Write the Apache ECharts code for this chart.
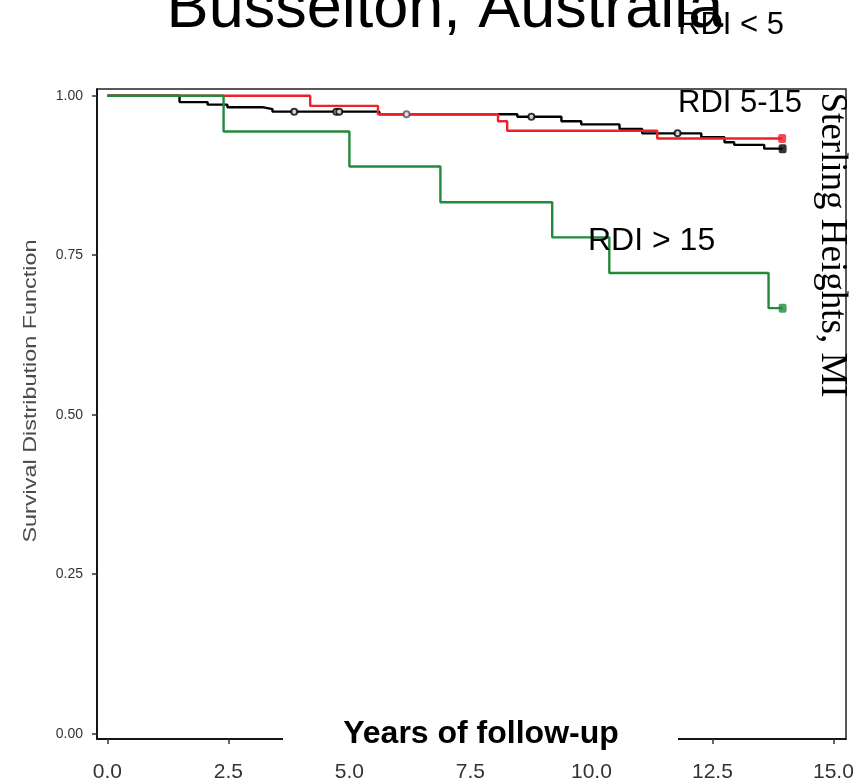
<!DOCTYPE html>
<html>
<head>
<meta charset="utf-8">
<script src="https://cdn.jsdelivr.net/npm/echarts@6/dist/echarts.min.js"></script>
<style>html,body{margin:0;padding:0;background:#fff}#c{width:857px;height:783px}</style>
</head>
<body>
<div id="c"></div>
<script>
// Kaplan-Meier step data: [years, survival]
var rdiLow = [[0,1.0],[1.49,0.990],[2.07,0.986],[2.48,0.982],[3.20,0.979],[3.41,0.975],[5.62,0.971],[8.47,0.967],[9.38,0.960],[9.79,0.955],[10.58,0.948],[11.05,0.941],[12.27,0.935],[12.75,0.927],[12.95,0.923],[13.57,0.917],[13.95,0.917]];
var rdiMid = [[0,1.0],[4.19,0.984],[5.59,0.971],[8.07,0.960],[8.26,0.945],[11.36,0.933],[13.94,0.933]];
var rdiHigh = [[0,1.0],[2.40,0.944],[5.00,0.889],[6.88,0.833],[9.19,0.778],[10.37,0.722],[13.66,0.667],[13.95,0.667]];
var censorLow = [3.86, 4.73, 4.79, 8.76, 11.78];
var censorMid = [6.18];
var xTicks = [0, 2.5, 5, 7.5, 10, 12.5, 15];
var yTicks = [0, 0.25, 0.5, 0.75, 1];
var seriesNames = ['RDI < 5', 'RDI 5-15', 'RDI > 15'];
var colors = ['#000000', '#ee2028', '#23893b'];

function survAt(curve, t) {
  var s = curve[0][1];
  for (var i = 0; i < curve.length; i++) { if (curve[i][0] <= t) s = curve[i][1]; }
  return s;
}
function censorPts(curve, times) { return times.map(function (t) { return [t, survAt(curve, t)]; }); }
function lastPt(curve) { return [curve[curve.length - 1]]; }

var chart = echarts.init(document.getElementById('c'));
var curves = [rdiLow, rdiMid, rdiHigh];
var series = [];
curves.forEach(function (c, i) {
  series.push({ name: seriesNames[i], type: 'line', step: 'end', data: c, showSymbol: false, symbol: 'none',
    lineStyle: { color: colors[i], width: 2.4 }, z: 2 + i, animation: false });
  series.push({ type: 'scatter', data: lastPt(c), symbol: 'roundRect', symbolSize: [8, 9],
    itemStyle: { color: colors[i] }, z: 2 + i, animation: false });
});
series.push({ type: 'scatter', data: censorPts(rdiLow, censorLow), symbol: 'emptyCircle', symbolSize: 6,
  itemStyle: { color: '#000', borderColor: '#000', borderWidth: 1.5 }, z: 6, animation: false });
series.push({ type: 'scatter', data: censorPts(rdiMid, censorMid), symbol: 'emptyCircle', symbolSize: 6,
  itemStyle: { color: '#555', borderColor: '#555', borderWidth: 1.2 }, z: 6, animation: false });

chart.setOption({
  animation: false,
  grid: { left: 97, right: 11, top: 89, bottom: 42, show: true, borderColor: '#222', borderWidth: 1.5, backgroundColor: 'transparent' },
  xAxis: {
    type: 'value', min: -0.215, max: 15.26,
    axisLine: { show: true, onZero: false, lineStyle: { color: '#000', width: 1.5 } },
    axisTick: { show: true, customValues: xTicks, length: 5, lineStyle: { color: '#333', width: 1.5 } },
    axisLabel: { customValues: xTicks, formatter: function (v) { return v.toFixed(1); }, fontSize: 21,
      fontFamily: 'Liberation Sans, Arial', color: '#333', margin: 23 },
    splitLine: { show: false }
  },
  yAxis: {
    type: 'value', min: -0.0083, max: 1.0105,
    axisLine: { show: true, onZero: false, lineStyle: { color: '#000', width: 1.5 } },
    axisTick: { show: true, customValues: yTicks, length: 5, lineStyle: { color: '#333', width: 1.5 } },
    axisLabel: { customValues: yTicks, formatter: function (v) { return v.toFixed(2); }, fontSize: 14,
      fontFamily: 'Liberation Sans, Arial', color: '#333', margin: 14 },
    splitLine: { show: false }
  },
  series: series,
  graphic: [
    { type: 'text', x: 445, y: 10, z: 100, style: { text: 'Busselton, Australia', fontSize: 63, fontFamily: 'Liberation Sans, Arial', fill: '#000', textAlign: 'center', textVerticalAlign: 'middle' } },
    { type: 'text', x: 678, y: 25, z: 100, style: { text: 'RDI < 5', fontSize: 31, fontFamily: 'Liberation Sans, Arial', fill: '#000', textAlign: 'left', textVerticalAlign: 'middle' } },
    { type: 'text', x: 678, y: 103, z: 100, style: { text: 'RDI 5-15', fontSize: 31, fontFamily: 'Liberation Sans, Arial', fill: '#000', textAlign: 'left', textVerticalAlign: 'middle' } },
    { type: 'text', x: 588, y: 241, z: 100, style: { text: 'RDI > 15', fontSize: 32, fontFamily: 'Liberation Sans, Arial', fill: '#000', textAlign: 'left', textVerticalAlign: 'middle' } },
    { type: 'text', x: 832, y: 245, z: 100, rotation: -Math.PI / 2, style: { text: 'Sterling Heights, MI', fontSize: 37, fontFamily: 'Liberation Serif, Times New Roman', fill: '#000', textAlign: 'center', textVerticalAlign: 'middle' } },
    { type: 'text', x: 31, y: 391, z: 100, rotation: Math.PI / 2, scaleX: 1.3, style: { text: 'Survival Distribution Function', fontSize: 18, fontFamily: 'Liberation Sans, Arial', fill: '#4a4a4a', textAlign: 'center', textVerticalAlign: 'middle' } },
    { type: 'rect', z: 90, shape: { x: 283, y: 714, width: 395, height: 44 }, style: { fill: '#fff' } },
    { type: 'text', x: 481, y: 734, z: 100, style: { text: 'Years of follow-up', fontSize: 32, fontWeight: 'bold', fontFamily: 'Liberation Sans, Arial', fill: '#000', textAlign: 'center', textVerticalAlign: 'middle' } }
  ]
});
</script>
</body>
</html>
